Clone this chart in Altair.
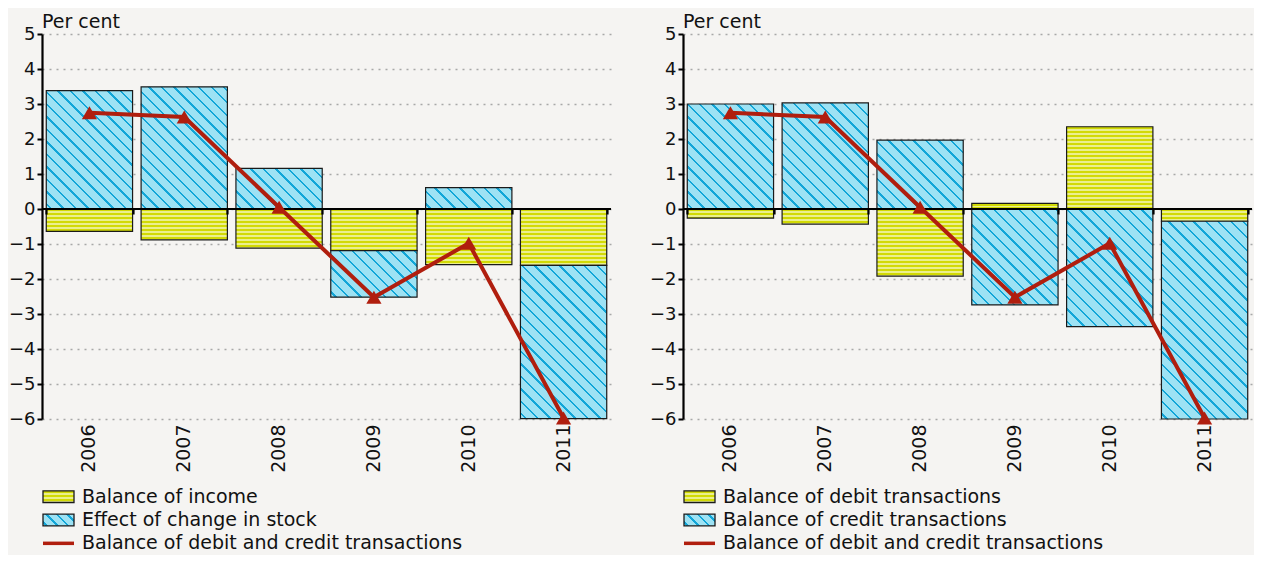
import math
import altair as alt

# ---------------- data ----------------
years = ["2006", "2007", "2008", "2009", "2010", "2011"]

# left panel
income = [-0.64, -0.88, -1.12, -1.19, -1.59, -1.61]
stock = [3.38, 3.49, 1.16, -1.33, 0.61, -4.38]

# right panel
debit = [-0.26, -0.43, -1.92, 0.16, 2.35, -0.35]
credit = [3.00, 3.03, 1.97, -2.74, -3.36, -5.65]

# line in both panels
balance = [2.75, 2.63, 0.05, -2.52, -0.98, -5.97]

legend_left = ["Balance of income", "Effect of change in stock",
               "Balance of debit and credit transactions"]
legend_right = ["Balance of debit transactions", "Balance of credit transactions",
                "Balance of debit and credit transactions"]

y_ticks = [-6, -5, -4, -3, -2, -1, 0, 1, 2, 3, 4, 5]

# ---------------- styling ----------------
FONT = "DejaVu Sans"
FS = 19
BG = "#f5f4f2"
RED = "#b01e0e"
Y_DARK = "#d2da04"
Y_LIGHT = "#ebef8e"
B_BG = "#9de2f4"
B_LINE = "#12a6d8"
EDGE = "#1a1a1a"

W, H = 569, 385
YMIN, YMAX = -6, 5
PPU = H / (YMAX - YMIN)
PAD_INNER = 0.09
BARW = W / len(years) * (1 - PAD_INNER)
ZERO_FROM_BOTTOM = H * (0 - YMIN) / (YMAX - YMIN)


def yellow_grad(h):
    stops = []
    y = 0.0
    h = max(h, 0.5)
    while y < h:
        a = y / h
        b = min((y + 2.2) / h, 1)
        c = min((y + 4.0) / h, 1)
        stops += [{"offset": round(a, 5), "color": Y_DARK},
                  {"offset": round(b, 5), "color": Y_DARK},
                  {"offset": round(b, 5), "color": Y_LIGHT},
                  {"offset": round(c, 5), "color": Y_LIGHT}]
        y += 4.0
    return {"gradient": "linear", "x1": 0, "y1": 0, "x2": 0, "y2": 1, "stops": stops}


def blue_grad(w, h, period=8.8, thick=1.7, phase=3.0):
    h = max(h, 0.5)
    k = (w + h) / (w * w + h * h)
    x2 = k * w
    y2 = 1 - k * h
    D = (w + h) / math.sqrt(2)
    stops = [{"offset": 0, "color": B_BG}]
    d = phase
    while d < D:
        a = d / D
        b = min((d + thick) / D, 1)
        stops += [{"offset": round(a, 5), "color": B_BG},
                  {"offset": round(a, 5), "color": B_LINE},
                  {"offset": round(b, 5), "color": B_LINE},
                  {"offset": round(b, 5), "color": B_BG}]
        d += period
    stops.append({"offset": 1, "color": B_BG})
    return {"gradient": "linear", "x1": 0, "y1": 1,
            "x2": round(x2, 5), "y2": round(y2, 5), "stops": stops}


def stacked_rows(first, second):
    rows = []
    for yr, a, b in zip(years, first, second):
        pos = neg = 0.0
        for val, kind in ((a, "yellow"), (b, "blue")):
            if val >= 0:
                y0, y1 = pos, pos + val
                pos = y1
            else:
                y0, y1 = neg, neg + val
                neg = y1
            h = abs(val) * PPU
            g = yellow_grad(h) if kind == "yellow" else blue_grad(BARW, h)
            rows.append({"year": yr, "kind": kind, "y0": y0, "y1": y1, "grad": g})
    return rows


line_rows = [{"year": yr, "value": v} for yr, v in zip(years, balance)]

y_scale = alt.Scale(domain=[YMIN, YMAX], nice=False, zero=False)
y_axis = alt.Axis(values=y_ticks, grid=True, gridDash=[2, 5], gridColor="#a8a8a8",
                  gridWidth=1.3, domainColor="black", domainWidth=2.2,
                  tickColor="black", tickWidth=2, tickSize=5, labelFontSize=18,
                  labelColor="#111", labelPadding=2, title=None, labelFont=FONT)
x_scale = alt.Scale(paddingInner=PAD_INNER, paddingOuter=PAD_INNER / 2)


def panel(first, second):
    bars = alt.Chart(alt.Data(values=stacked_rows(first, second))).mark_bar(
        stroke=EDGE, strokeWidth=1.2
    ).encode(
        x=alt.X("year:N", title=None, scale=x_scale,
                axis=alt.Axis(orient="bottom", labelAngle=-90, labelFontSize=FS,
                              labelFont=FONT, labelColor="#111", domain=False,
                              ticks=False, grid=False, labelPadding=5, title=None)),
        y=alt.Y("y0:Q", scale=y_scale, axis=y_axis, title=None, stack=None),
        y2="y1:Q",
        fill=alt.Fill("grad:N", scale=None),
    )
    zero = alt.Chart(alt.Data(values=[{"z": 0}])).mark_rule(
        color="black", strokeWidth=2.2
    ).encode(y=alt.Y("z:Q", scale=y_scale, axis=y_axis, title=None))
    line = alt.Chart(alt.Data(values=line_rows)).mark_line(
        color=RED, strokeWidth=4
    ).encode(
        x=alt.X("year:N", title=None, scale=x_scale,
                axis=alt.Axis(orient="bottom", offset=-ZERO_FROM_BOTTOM, labels=False,
                              domain=False, ticks=True, tickBand="extent",
                              tickSize=5, tickWidth=2.2, tickColor="black",
                              grid=False, zindex=1, title=None)),
        y=alt.Y("value:Q", scale=y_scale, axis=y_axis, title=None),
    )
    pts = alt.Chart(alt.Data(values=line_rows)).mark_point(
        shape="triangle-up", filled=True, size=230, color=RED, opacity=1
    ).encode(
        x=alt.X("year:N", scale=x_scale, axis=None),
        y=alt.Y("value:Q", scale=y_scale, axis=y_axis, title=None),
    )
    return alt.layer(bars, zero, line, pts).resolve_axis(x="independent").properties(
        width=W, height=H,
        title=alt.TitleParams("Per cent", anchor="start", frame="group", fontSize=FS,
                              fontWeight="normal", font=FONT, color="#111", offset=-7),
    )


def legend(labels):
    sw_rows = [{"item": labels[0], "grad": yellow_grad(11.7)},
               {"item": labels[1], "grad": blue_grad(31, 11.7, period=7.5, thick=1.8, phase=2.0)}]
    ly = alt.Y("item:N", sort=labels, axis=None, title=None,
               scale=alt.Scale(paddingInner=0.5, paddingOuter=0.25))
    sw = alt.Chart(alt.Data(values=sw_rows)).mark_rect(
        stroke=EDGE, strokeWidth=1.3
    ).encode(x=alt.value(1), x2=alt.value(32), y=ly, fill=alt.Fill("grad:N", scale=None))
    ln = alt.Chart(alt.Data(values=[{"item": labels[2]}])).mark_rule(
        color=RED, strokeWidth=3.5
    ).encode(x=alt.value(1), x2=alt.value(32), y=ly)
    tx = alt.Chart(alt.Data(values=[{"item": l} for l in labels])).mark_text(
        align="left", baseline="middle", fontSize=FS, font=FONT, color="#111"
    ).encode(x=alt.value(40), y=ly, text="item:N")
    return alt.layer(sw, ln, tx).properties(width=W, height=70)


chart = alt.concat(
    panel(income, stock), panel(debit, credit),
    legend(legend_left), legend(legend_right),
    columns=2, spacing={"row": 66, "column": 72}, bounds="flush",
).properties(
    background=BG,
    padding={"left": 0, "top": 5, "right": 0, "bottom": 0},
).configure(font=FONT).configure_view(stroke=None)

chart.save("out.html", embed_options={"renderer": "svg", "actions": False})
